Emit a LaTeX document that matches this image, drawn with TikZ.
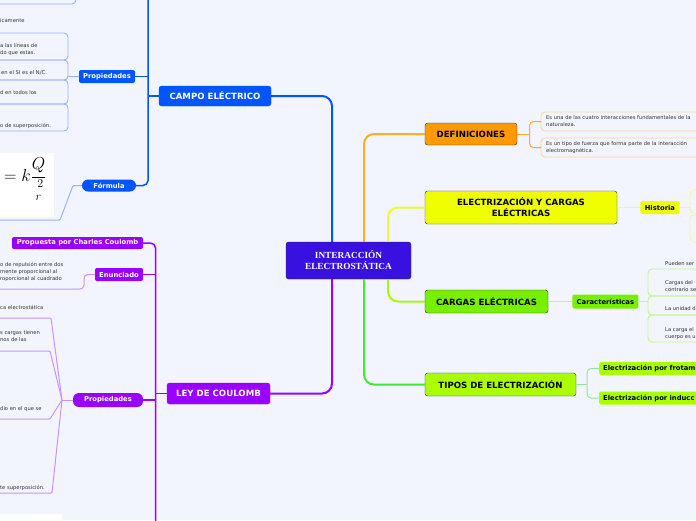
\documentclass[tikz,border=0pt]{standalone}
\usepackage{amsmath}
\usepackage{fontspec}
\setmainfont{DejaVu Sans}
\newfontfamily\titlefont{Liberation Serif}
\usetikzlibrary{positioning}
\definecolor{bgcol}{RGB}{242,245,254}
\definecolor{centrecol}{RGB}{56,16,224}
\definecolor{campocol}{RGB}{0,85,255}
\definecolor{leycol}{RGB}{153,0,255}
\definecolor{defcol}{RGB}{255,153,0}
\definecolor{eleccol}{RGB}{240,255,0}
\definecolor{cargascol}{RGB}{119,240,0}
\definecolor{tiposcol}{RGB}{170,255,0}
\definecolor{defline}{RGB}{255,170,40}
\definecolor{elecline}{RGB}{240,250,50}
\definecolor{cargasline}{RGB}{170,245,20}
\definecolor{tiposline}{RGB}{70,230,50}
\definecolor{campolight}{RGB}{150,178,255}
\definecolor{leylight}{RGB}{205,145,255}
\definecolor{deflight}{RGB}{255,212,160}
\definecolor{eleclight}{RGB}{240,245,150}
\definecolor{cargaslight}{RGB}{190,245,140}
\definecolor{tiposlight}{RGB}{140,235,140}
\definecolor{leaftext}{RGB}{50,50,50}
\tikzset{
    centre topic/.style = {
        draw = black!80,
        fill = centrecol,
        text = white,
        rounded corners = 2.5pt,
        inner sep = 0pt,
        minimum width = 125pt,
        minimum height = 37pt,
        align = center,
        font = \titlefont\bfseries\fontsize{9.3}{11}\selectfont,
        },
    topic/.style = {
        draw = black!80,
        rounded corners = 2.5pt,
        inner sep = 0pt,
        align = center,
        font = \bfseries\fontsize{8.6}{11}\selectfont,
        },
    sub/.style = {
        rounded corners = 2pt,
        inner sep = 0pt,
        font = \bfseries\fontsize{6.8}{8}\selectfont,
        },
    pill/.style = {
        rounded corners = 6pt,
        },
    leaf/.style = {
        anchor = west,
        inner sep = 0pt,
        align = left,
        text = leaftext,
        font = \fontsize{5.2}{7}\selectfont,
        },
    leaf box/.style = {
        draw,
        line width = 0.9pt,
        rounded corners = 4pt,
        },
    branch/.style = {
        line width = 2pt,
        rounded corners = 10pt,
        },
    spine/.style = {
        line width = 1.5pt,
        rounded corners = 5pt,
        },
    twig/.style = {
        line width = 1pt,
        rounded corners = 4pt,
        },
}
\begin{document}
\begin{tikzpicture}[x=1pt, y=-1pt]
    \useasboundingbox (0,0) rectangle (696,520);
    \fill[bgcol] (0,0) rectangle (696,520);
    \clip (0,0) rectangle (696,520);

    % centre and main topics
    \node[centre topic] (centro) at (348.5,260.5) {INTERACCIÓN\\ELECTROSTÁTICA};
    \node[topic, draw=campocol, fill=campocol, text=white, minimum width=112pt, minimum height=20pt] (campo) at (215,96) {CAMPO ELÉCTRICO};
    \node[topic, draw=leycol, fill=leycol, text=white, minimum width=103pt, minimum height=21pt] (ley) at (218.5,393.5) {LEY DE COULOMB};
    \node[topic, fill=defcol, minimum width=92pt, minimum height=22pt] (def) at (471,134) {DEFINICIONES};
    \node[topic, fill=eleccol, minimum width=192pt, minimum height=33pt] (elec) at (521,207.5) {ELECTRIZACIÓN Y CARGAS\\ELÉCTRICAS};
    \node[topic, fill=cargascol, minimum width=123pt, minimum height=23pt] (cargas) at (486.5,301.5) {CARGAS ELÉCTRICAS};
    \node[topic, fill=tiposcol, minimum width=151pt, minimum height=23pt] (tipos) at (500.5,384.5) {TIPOS DE ELECTRIZACIÓN};

    \draw[branch, campocol] ([xshift=-16.5pt]centro.north) |- (campo.east);
    \draw[branch, defline] ([xshift=15.5pt]centro.north) |- (def.west);
    \draw[branch, elecline] ([xshift=39.5pt]centro.north) |- (elec.west);
    \draw[branch, leycol] ([xshift=-16.5pt]centro.south) |- (ley.east);
    \draw[branch, tiposline] ([xshift=15.5pt]centro.south) |- (tipos.west);
    \draw[branch, cargasline] ([xshift=39.5pt]centro.south) |- (cargas.west);

    % sub topics
    \node[sub, fill=campocol, text=white, minimum width=56pt, minimum height=13pt] (propC) at (107,76.5) {Propiedades};
    \node[sub, pill, fill=campocol, text=white, minimum width=54pt, minimum height=12pt] (formula) at (109,185.5) {Fórmula};
    \node[sub, fill=leycol, text=white, minimum width=131pt, minimum height=12pt] (propuesta) at (77.5,243) {Propuesta por Charles Coulomb};
    \node[sub, fill=leycol, text=white, minimum width=48pt, minimum height=13pt] (enun) at (119,274.5) {Enunciado};
    \node[sub, pill, fill=leycol, text=white, minimum width=70pt, minimum height=14pt] (propL) at (108,400) {Propiedades};
    \node[sub, fill=eleccol, minimum width=39pt, minimum height=13pt, right=23pt of elec] (historia) {Historia};
    \node[sub, fill=cargascol, minimum width=66pt, minimum height=14pt, right=24pt of cargas] (caract) {Características};
    \node[sub, fill=tiposcol, anchor=west, inner xsep=4pt, text width=112pt, align=left, minimum height=13pt] (frot) at (599,368.5) {Electrización por frotam};
    \node[sub, fill=tiposcol, anchor=west, inner xsep=4pt, text width=112pt, align=left, minimum height=13pt] (induc) at (599,398) {Electrización por inducc};

    \coordinate (spineC) at (148,-5);
    \coordinate (spineL) at (155.5,530);
    \draw[spine, campocol] (spineC) |- (formula.east);
    \draw[spine, campocol] (campo.west) -- (campo.west -| spineC);
    \draw[spine, campocol] (propC.east) -- (propC.east -| spineC);
    \draw[spine, leycol] (propuesta.east) -| (spineL);
    \draw[spine, leycol] (enun.east) -- (enun.east -| spineL);
    \draw[spine, leycol] (ley.west) -- (ley.west -| spineL);
    \draw[spine, leycol] (propL.east) -- (propL.east -| spineL);

    % campo electrico leaves
    \draw[leaf box, campolight] (-10,-10) rectangle (76,4);
    \draw[leaf box, campolight] (-10,33) rectangle (68,60);
    \draw[leaf box, campolight] (-10,60) rectangle (68,80);
    \draw[leaf box, campolight] (-10,80) rectangle (68,104);
    \draw[leaf box, campolight] (-10,104) rectangle (68,131);
    \coordinate (propCend) at (68,76.5);
    \draw[twig, campolight] (propC.west) -- (propCend);
    \node[leaf] (c0) at (0,21) {icamente};
    \node[leaf] (c1) at (0,49.5) {a las líneas de\\do que estas.};
    \node[leaf] (c2) at (1,73) {en el SI es el N/C.};
    \node[leaf] (c3) at (0,93) {d en todos los};
    \node[leaf] (c4) at (0,126) {o de superposición.};
    \fill[white] (-5,153) rectangle (54,217);
    \node[anchor=base west, inner sep=0pt] (formE) at (-14.5,181.5) {\fontsize{18}{18}\selectfont$E=k\dfrac{Q}{\genfrac{}{}{0pt}{1}{\;2}{r}}$};
    \coordinate (formEnd) at (-5,220);
    \draw[twig, campolight, rounded corners=1pt] (formula.west) -- (73,185.5) -- (60,220) -- (formEnd);

    % ley de coulomb leaves
    \node[leaf] (e1) at (0,271.5) {o de repulsión entre dos\\mente proporcional al\\roporcional al cuadrado};
    \coordinate (enunEnd) at (-5,289);
    \draw[twig, leylight] (enun.west) -| (84,289) -- (enunEnd);
    \coordinate (fanL) at (62,400);
    \draw[twig, leylight] (propL.west) -- (fanL);
    \draw[twig, leylight, rounded corners=1pt] (fanL) -- (51,318) -- (-5,318);
    \draw[twig, leylight, rounded corners=1pt] (fanL) -- (50,351) -- (-5,351);
    \draw[twig, leylight, rounded corners=1pt] (fanL) -- (50,419) -- (-5,419);
    \draw[twig, leylight, rounded corners=1pt] (fanL) -- (52,493) -- (-5,493);
    \node[leaf] (p1) at (0,307) {ca electrostática};
    \node[leaf] (p2) at (0,336) {s cargas tienen\\nos de las};
    \node[leaf] (p3) at (0,409) {dio en el que se};
    \node[leaf] (p4) at (0,488) {te superposición.};
    \fill[white] (-5,514) rectangle (62,525);

    % definiciones leaves
    \draw[leaf box, deflight] (541,112) rectangle (720,131);
    \draw[leaf box, deflight] (541,138) rectangle (720,157);
    \coordinate (defFork) at (529.5,134);
    \draw[twig, defline] (def.east) -- (defFork);
    \draw[twig, defline] (defFork) |- (541,121.5);
    \draw[twig, defline] (defFork) |- (541,147.5);
    \node[leaf] (d1) at (546,121.5) {Es una de las cuatro interacciones fundamentales de la\\naturaleza.};
    \node[leaf] (d2) at (546,147.5) {Es un tipo de fuerza que forma parte de la interacción\\electromagnética.};

    % historia leaves
    \draw[leaf box, eleclight] (690,190) rectangle (720,213);
    \draw[leaf box, eleclight] (690,215) rectangle (720,242);
    \draw[twig, eleclight] (elec.east) -- (historia.west);
    \draw[twig, eleclight] (historia.east) -- (historia.east -| 690,0);

    % caracteristicas leaves
    \draw[leaf box, cargaslight] (648,269) rectangle (720,296);
    \draw[leaf box, cargaslight] (648,296) rectangle (720,315);
    \draw[leaf box, cargaslight] (648,315) rectangle (720,342);
    \draw[twig, cargaslight] (cargas.east) -- (caract.west);
    \draw[twig, cargaslight] (caract.east) -- (caract.east -| 648,0);
    \node[leaf] (k0) at (665,264) {Pueden ser};
    \node[leaf] (k1) at (665,286) {Cargas del\\contrario se};
    \node[leaf] (k2) at (665,309) {La unidad d};
    \node[leaf] (k3) at (665,333.5) {La carga el\\cuerpo es u};

    % tipos leaves
    \coordinate (tiposFork) at (587,384.5);
    \draw[twig, tiposlight] (tipos.east) -- (tiposFork);
    \draw[twig, tiposlight] (tiposFork) |- (frot.west);
    \draw[twig, tiposlight] (tiposFork) |- (induc.west);
\end{tikzpicture}
\end{document}
